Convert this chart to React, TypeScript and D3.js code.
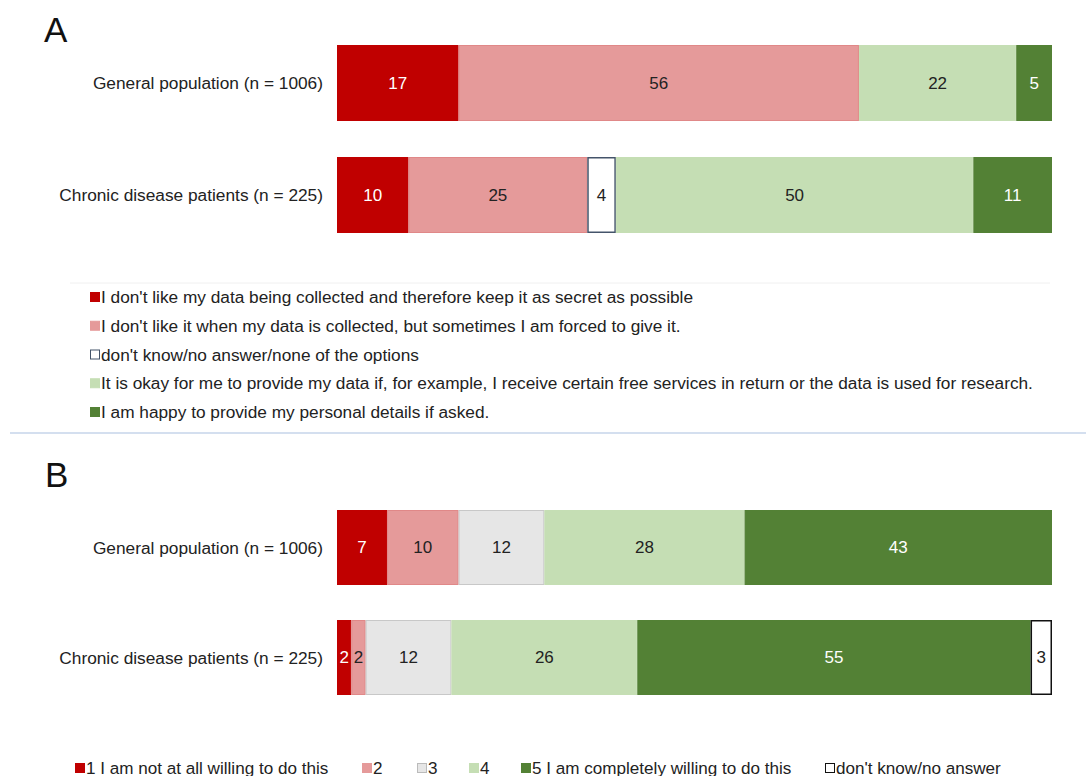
import React from "react";
import * as d3 from "d3";

const categories = ["General population (n = 1006)", "Chronic disease patients (n = 225)"];

// Panel A
const seriesA = [
  "I don't like my data being collected and therefore keep it as secret as possible",
  "I don't like it when my data is collected, but sometimes I am forced to give it.",
  "don't know/no answer/none of the options",
  "It is okay for me to provide my data if, for example, I receive certain free services in return or the data is used for research.",
  "I am happy to provide my personal details if asked.",
];
const valuesA = [
  [17, 56, 0, 22, 5],
  [10, 25, 4, 50, 11],
];

// Panel B
const seriesB = [
  "1 I am not at all willing to do this",
  "2",
  "3",
  "4",
  "5 I am completely willing to do this",
  "don't know/no answer",
];
const valuesB = [
  [7, 10, 12, 28, 43, 0],
  [2, 2, 12, 26, 55, 3],
];

const DARK_RED = "#C00000";
const LIGHT_RED = "#E59A9A";
const GRAY = "#E6E6E6";
const LIGHT_GREEN = "#C5DEB4";
const DARK_GREEN = "#538135";
const WHITE = "#FFFFFF";

const fillsA = [DARK_RED, LIGHT_RED, WHITE, LIGHT_GREEN, DARK_GREEN];
const strokesA = ["#C00000", "#E08888", "#44546A", "#C5DEB4", "#538135"];
const textA = ["#fff", "#222", "#222", "#222", "#fff"];

const fillsB = [DARK_RED, LIGHT_RED, GRAY, LIGHT_GREEN, DARK_GREEN, WHITE];
const strokesB = ["#C00000", "#E08888", "#C8C8C8", "#C5DEB4", "#538135", "#111"];
const textB = ["#fff", "#222", "#222", "#222", "#fff", "#222"];

const FONT = "'Liberation Sans', Arial, sans-serif";

function StackedPanel({
  values, fills, strokes, textColors, yRange, paddingInner,
}: {
  values: number[][]; fills: string[]; strokes: string[]; textColors: string[];
  yRange: [number, number]; paddingInner: number;
}) {
  const x = d3.scaleLinear().domain([0, 100]).range([337, 1052]);
  const y = d3.scaleBand<string>().domain(categories).range(yRange).paddingInner(paddingInner).paddingOuter(0);
  const keys = values[0].map((_, i) => String(i));
  const rows = values.map((vals, r) => {
    const o: any = { cat: categories[r] };
    vals.forEach((v, i) => (o[String(i)] = v));
    return o;
  });
  const stacked = d3.stack<any>().keys(keys)(rows);
  return (
    <g>
      {categories.map((c) => (
        <text key={c} x={323} y={(y(c) as number) + y.bandwidth() / 2} textAnchor="end"
          dominantBaseline="central" fontFamily={FONT} fontSize={17.3} fill="#222">{c}</text>
      ))}
      {stacked.map((layer, si) =>
        layer.map((d, ri) => {
          const v = d[1] - d[0];
          if (v <= 0) return null;
          const cat = categories[ri];
          const x0 = x(d[0]);
          const x1 = x(d[1]);
          const y0 = y(cat) as number;
          const isWhite = fills[si] === WHITE;
          const sw = isWhite ? 1.5 : 1;
          return (
            <g key={`${si}-${ri}`}>
              <rect x={x0 + sw / 2} y={y0 + sw / 2} width={x1 - x0 - sw} height={y.bandwidth() - sw}
                fill={fills[si]} stroke={strokes[si]} strokeWidth={sw} />
              <text x={(x0 + x1) / 2} y={y0 + y.bandwidth() / 2} textAnchor="middle"
                dominantBaseline="central" fontFamily={FONT} fontSize={17} fill={textColors[si]}>{v}</text>
            </g>
          );
        })
      )}
    </g>
  );
}

export default function App() {
  const legendAY = d3.scalePoint<string>().domain(seriesA).range([297, 412]);
  const legendBX = [75, 362, 417, 469, 521, 825];
  return (
    <svg width={1089} height={776} style={{ position: "absolute", left: 0, top: 0, background: "#fff" }}>
      <rect x={0} y={0} width={1089} height={776} fill="#fff" />
      <text x={44} y={42} fontFamily={FONT} fontSize={35} fill="#111">A</text>
      <StackedPanel values={valuesA} fills={fillsA} strokes={strokesA} textColors={textA}
        yRange={[45, 233]} paddingInner={36 / 112} />
      <line x1={70} x2={1050} y1={283} y2={283} stroke="#F0F0F0" strokeWidth={1} />
      {seriesA.map((s, i) => {
        const yy = legendAY(s) as number;
        const isWhite = fillsA[i] === WHITE;
        return (
          <g key={s}>
            <rect x={90.5} y={yy - 4.5} width={9} height={9} fill={fillsA[i]}
              stroke={isWhite ? strokesA[i] : fillsA[i]} strokeWidth={1} />
            <text x={101} y={yy} dominantBaseline="central" fontFamily={FONT} fontSize={17.25} fill="#222">{s}</text>
          </g>
        );
      })}
      <line x1={10} x2={1086} y1={433} y2={433} stroke="#A9C0E0" strokeWidth={1.2} />
      <text x={45} y={487} fontFamily={FONT} fontSize={35} fill="#111">B</text>
      <StackedPanel values={valuesB} fills={fillsB} strokes={strokesB} textColors={textB}
        yRange={[510, 695]} paddingInner={35 / 110} />
      {seriesB.map((s, i) => {
        const xx = legendBX[i];
        const yy = 768;
        const isWhite = fillsB[i] === WHITE;
        return (
          <g key={s}>
            <rect x={xx + 0.5} y={yy - 4.5} width={9} height={9} fill={fillsB[i]}
              stroke={isWhite ? strokesB[i] : (i === 2 ? "#BBBBBB" : fillsB[i])} strokeWidth={1} />
            <text x={xx + 11} y={yy} dominantBaseline="central" fontFamily={FONT} fontSize={17.1} fill="#222">{s}</text>
          </g>
        );
      })}
    </svg>
  );
}
